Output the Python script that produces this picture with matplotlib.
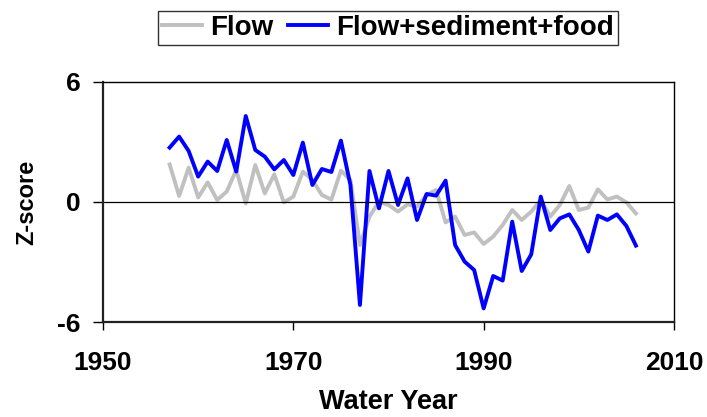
import matplotlib
matplotlib.use("Agg")
import matplotlib.pyplot as plt

years = list(range(1957, 2007))
flow = [1.88, 0.30, 1.72, 0.23, 0.98, 0.10, 0.52, 1.60, -0.07, 1.85,
        0.43, 1.38, -0.02, 0.27, 1.52, 1.10, 0.35, 0.12, 1.57, 1.10,
        -2.15, -0.73, 0.02, -0.15, -0.48, -0.12, -0.23, 0.35, 0.60, -1.02,
        -0.73, -1.65, -1.52, -2.10, -1.73, -1.15, -0.40, -0.90, -0.48, 0.10,
        -0.73, -0.15, 0.80, -0.40, -0.28, 0.63, 0.13, 0.27, -0.02, -0.57]
flow_sed_food = [2.72, 3.27, 2.55, 1.27, 2.02, 1.55, 3.10, 1.52, 4.30, 2.60,
                 2.27, 1.63, 2.10, 1.35, 2.97, 0.85, 1.65, 1.50, 3.07, 0.85,
                 -5.15, 1.55, -0.32, 1.55, -0.15, 1.18, -0.90, 0.40, 0.32, 1.07,
                 -2.15, -2.98, -3.40, -5.32, -3.70, -3.93, -0.98, -3.45, -2.62, 0.27,
                 -1.40, -0.82, -0.62, -1.40, -2.48, -0.68, -0.90, -0.62, -1.20, -2.18]
xticks = [1950, 1970, 1990, 2010]
yticks = [-6, 0, 6]

plt.rcParams["font.family"] = ["Liberation Sans", "DejaVu Sans"]
plt.rcParams["font.weight"] = "bold"
plt.rcParams["axes.unicode_minus"] = False

fig = plt.figure(figsize=(7.07, 4.17), dpi=100)
ax = fig.add_axes([0.1457, 0.2278, 0.8076, 0.5756])

ax.plot(years, flow, color="#c0c0c0", lw=2.8, label="Flow")
ax.plot(years, flow_sed_food, color="#0000ff", lw=2.8, label="Flow+sediment+food")
ax.axhline(0, color="black", lw=0.9)

ax.set_xlim(1950, 2010)
ax.set_ylim(-6, 6)
ax.set_xticks(xticks)
ax.set_yticks(yticks)
ax.tick_params(axis="x", direction="out", length=6, width=1, labelsize=19, pad=15)
ax.tick_params(axis="y", direction="out", length=7, width=1, labelsize=19, pad=9)
for lbl in ax.get_xticklabels() + ax.get_yticklabels():
    lbl.set_fontweight("bold")

for side in ["top", "right"]:
    ax.spines[side].set_linewidth(1)
for side in ["left", "bottom"]:
    ax.spines[side].set_linewidth(1.6)
    ax.spines[side].set_color("#222222")

ax.set_xlabel("Water Year", fontsize=19.5, fontweight="bold", labelpad=10)
ax.set_ylabel("Z-score", fontsize=17, fontweight="bold")
ax.yaxis.set_label_coords(-0.114, 0.5)

leg = fig.legend(loc="center", bbox_to_anchor=(388 / 707, 1 - 28 / 417), ncol=2,
                 frameon=True, fancybox=False, edgecolor="black",
                 handlelength=1.45, handletextpad=0.3, columnspacing=0.5,
                 borderpad=0.15, borderaxespad=0,
                 prop={"weight": "bold", "size": 20})
leg.get_frame().set_linewidth(1)

fig.savefig("out.png", dpi=100)
